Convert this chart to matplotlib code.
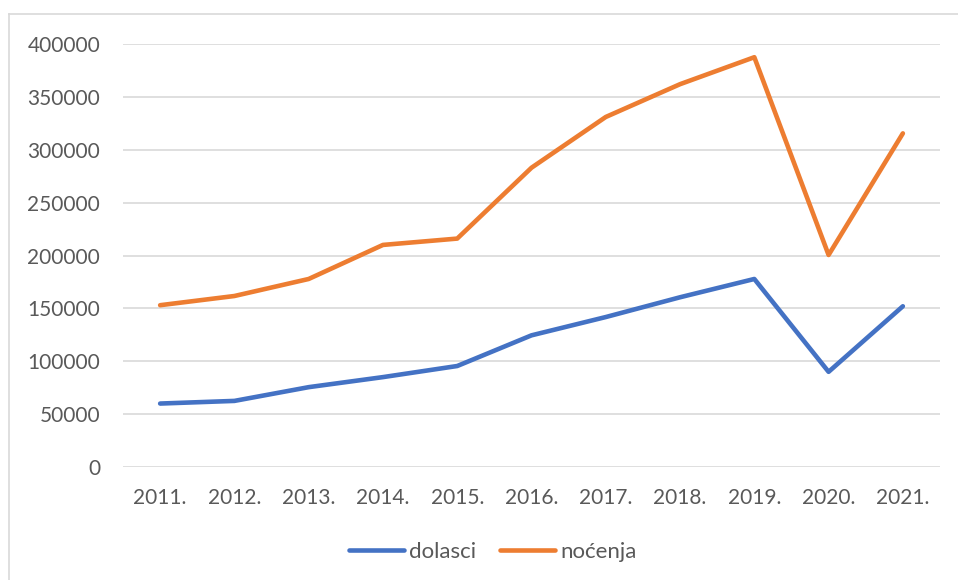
import matplotlib
matplotlib.use("Agg")
import matplotlib.pyplot as plt
from matplotlib.lines import Line2D

years = ["2011.", "2012.", "2013.", "2014.", "2015.", "2016.", "2017.", "2018.", "2019.", "2020.", "2021."]
dolasci = [60000, 62500, 75500, 85000, 95500, 124500, 141800, 160500, 177800, 90000, 152000]
nocenja = [153000, 161700, 177800, 210000, 216000, 283000, 331000, 362000, 387500, 200500, 315500]
yticks = [0, 50000, 100000, 150000, 200000, 250000, 300000, 350000, 400000]

W, H = 958, 580
plt.rcParams['font.family'] = ['Lato', 'DejaVu Sans']
fig = plt.figure(figsize=(W / 100, H / 100), dpi=100)
ax = fig.add_axes([123 / W, 1 - 467 / H, (940 - 123) / W, (467 - 44) / H])

x = list(range(len(years)))
ax.plot(x, dolasci, color="#4472C4", lw=3.3, solid_capstyle="round", solid_joinstyle="round", label="dolasci", zorder=3)
ax.plot(x, nocenja, color="#ED7D31", lw=3.3, solid_capstyle="round", solid_joinstyle="round", label="noćenja", zorder=3)

ax.set_xlim(-0.5, len(years) - 0.5)
ax.set_ylim(0, 400000)
ax.set_yticks(yticks)
ax.set_yticklabels([str(v) for v in yticks])
ax.set_xticks(x)
ax.set_xticklabels(years)
ax.grid(axis="y", color="#D9D9D9", lw=1.2)
ax.set_axisbelow(True)
for s in ax.spines.values():
    s.set_visible(False)
ax.tick_params(length=0, labelsize=15, colors="#595959")
ax.tick_params(axis="y", pad=16.5)
ax.tick_params(axis="x", pad=15)

fig.legend(loc="center", bbox_to_anchor=(492.5 / W, 1 - 552 / H), ncol=2, frameon=False,
           fontsize=16, labelcolor="#595959", handlelength=2.5, handletextpad=0.2,
           columnspacing=1.08)

fig.add_artist(Line2D([9 / W, 1], [1 - 14 / H, 1 - 14 / H], color="#D9D9D9", lw=1.2, transform=fig.transFigure))
fig.add_artist(Line2D([9 / W, 9 / W], [1 - 14 / H, 0], color="#D9D9D9", lw=1.2, transform=fig.transFigure))

fig.savefig("out.png", dpi=100)
